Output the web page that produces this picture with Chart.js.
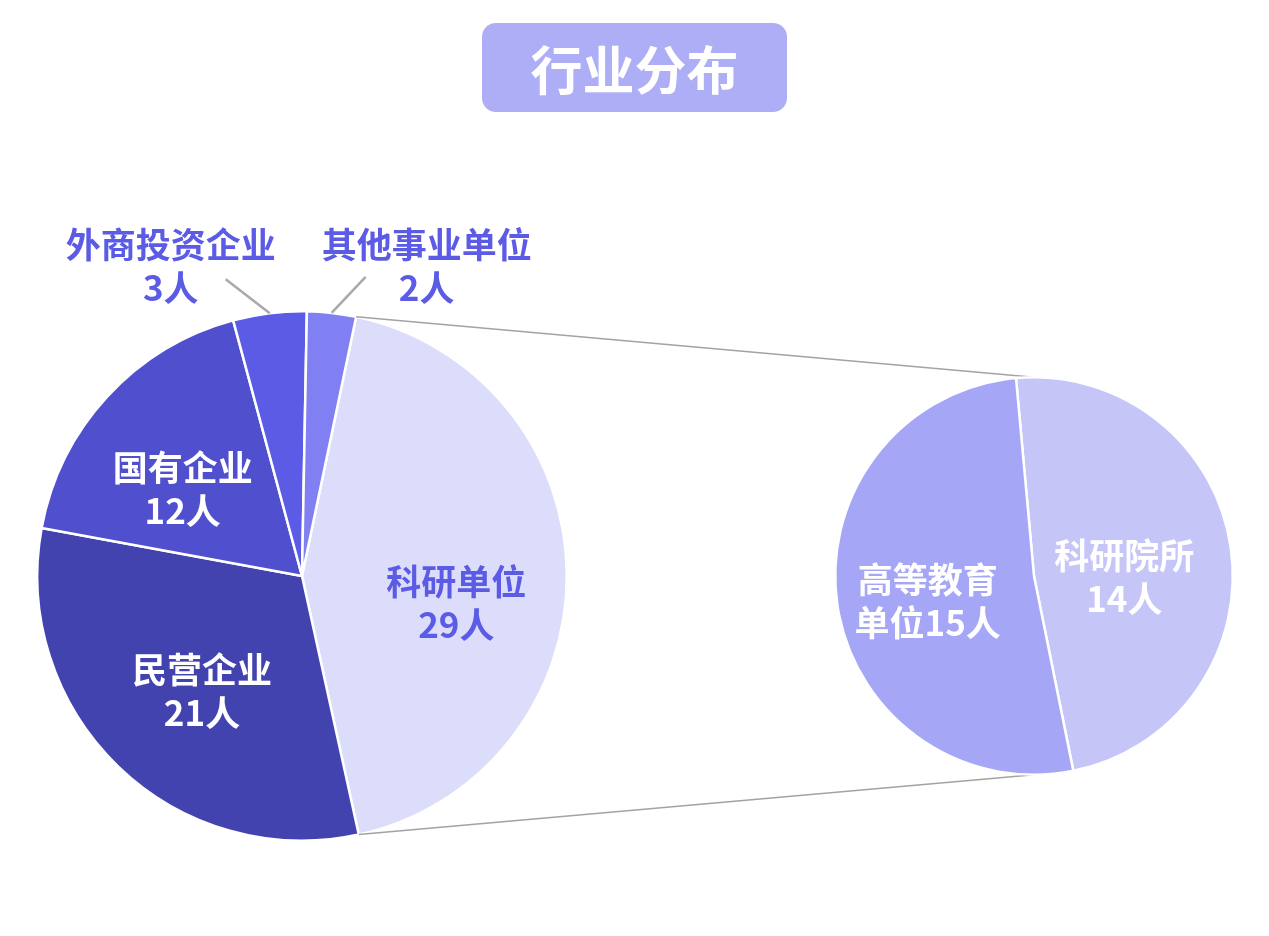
<!DOCTYPE html>
<html>
<head>
<meta charset="utf-8">
<title>行业分布</title>
<script src="https://cdn.jsdelivr.net/npm/chart.js@4.4.1/dist/chart.umd.min.js"></script>
<style>
  body { margin: 0; background: #fff; }
  #wrap { position: relative; width: 1269px; height: 936px; overflow: hidden; }
  #wrap canvas { position: absolute; left: 0; top: 0; }
  #title {
    position: absolute; left: 482px; top: 23px; width: 305px; height: 89px;
    border-radius: 14px; background: #adaef5; color: #fff;
    font: bold 52px "Noto Sans CJK SC", sans-serif; line-height: 89px; text-align: center;
  }
</style>
</head>
<body>
<div id="wrap">
  <canvas id="mainPie" width="1269" height="936"></canvas>
  <canvas id="subPie" width="1269" height="936"></canvas>
  <div id="title">行业分布</div>
</div>
<script>
// data
let mainCats = ["科研单位", "民营企业", "国有企业", "外商投资企业", "其他事业单位"];
let mainVals = [29, 21, 12, 3, 2];
let subCats = ["科研院所", "高等教育单位"];
let subVals = [14, 15];
let unit = "人";

let mainColors = ["#dcdcfb", "#4343b0", "#5050cf", "#5b5be6", "#8080f2"];
let subColors = ["#c5c5f8", "#a5a6f6"];

// where the labels sit (offset from slice centre, or from the rim for outside ones)
let mainLabelPos = [
  { dx: 22, dy: 28, color: "#5b5be6" },
  { dx: -8, dy: 20 },
  { dx: -22, dy: 3 },
  { out: true, lx: -44, ly: -34, dx: -99, dy: -47, color: "#5b5be6" },
  { out: true, lx: 34, ly: -36, dx: 95, dy: -47, color: "#5b5be6" }
];
let subLabelPos = [
  { dx: -8, dy: 16 },
  { dx: -8, dy: 11 }
];

function labelPlugin(pos, wrapAt) {
  return {
    id: "sliceLabels",
    afterDatasetsDraw(chart) {
      let ctx = chart.ctx;
      let ds = chart.data.datasets[0];
      chart.getDatasetMeta(0).data.forEach((arc, i) => {
        let p = pos[i];
        let name = chart.data.labels[i];
        let text = name + ds.data[i] + unit;
        let cut = Math.min(name.length, wrapAt);
        let lines = [text.slice(0, cut), text.slice(cut)];
        let x, y;
        if (p.out) {
          let mid = (arc.startAngle + arc.endAngle) / 2;
          let ex = arc.x + Math.cos(mid) * arc.outerRadius;
          let ey = arc.y + Math.sin(mid) * arc.outerRadius;
          ctx.save();
          ctx.strokeStyle = "#a9a9a9";
          ctx.lineWidth = 2.5;
          ctx.beginPath();
          ctx.moveTo(ex, ey);
          ctx.lineTo(ex + p.lx, ey + p.ly);
          ctx.stroke();
          ctx.restore();
          x = ex + p.dx;
          y = ey + p.dy;
        } else {
          let c = arc.tooltipPosition();
          x = c.x + p.dx;
          y = c.y + p.dy;
        }
        ctx.save();
        ctx.fillStyle = p.color || "#ffffff";
        ctx.font = 'bold 35px "Noto Sans CJK SC", sans-serif';
        ctx.textAlign = "center";
        ctx.textBaseline = "middle";
        ctx.fillText(lines[0], x, y - 21.5);
        ctx.fillText(lines[1], x, y + 21.5);
        ctx.restore();
      });
    }
  };
}

function pieOptions(rotation, padding) {
  return {
    responsive: false,
    animation: false,
    rotation: rotation,
    layout: { padding: padding },
    plugins: { legend: { display: false }, tooltip: { enabled: false } }
  };
}

// left pie
let mainChart = new Chart(document.getElementById("mainPie"), {
  type: "pie",
  data: {
    labels: mainCats,
    datasets: [{
      data: mainVals,
      backgroundColor: mainColors,
      borderColor: "#ffffff",
      borderWidth: 2.5
    }]
  },
  options: pieOptions(11.8, { left: 36, right: 701, top: 310, bottom: 94 }),
  plugins: [labelPlugin(mainLabelPos, Infinity)]
});

// lines from the 科研单位 slice to the breakdown pie
let connector = {
  id: "connector",
  beforeDatasetsDraw(chart) {
    let big = mainChart.getDatasetMeta(0).data[0];
    let small = chart.getDatasetMeta(0).data[0];
    let r = small.outerRadius;
    let ctx = chart.ctx;
    ctx.save();
    ctx.strokeStyle = "#a3a3a3";
    ctx.lineWidth = 1.5;
    ctx.beginPath();
    ctx.moveTo(big.x + Math.cos(big.startAngle) * big.outerRadius, big.y + Math.sin(big.startAngle) * big.outerRadius);
    ctx.lineTo(small.x, small.y - r);
    ctx.moveTo(big.x + Math.cos(big.endAngle) * big.outerRadius, big.y + Math.sin(big.endAngle) * big.outerRadius);
    ctx.lineTo(small.x, small.y + r);
    ctx.stroke();
    ctx.restore();
  }
};

// right pie
let subChart = new Chart(document.getElementById("subPie"), {
  type: "pie",
  data: {
    labels: subCats,
    datasets: [{
      data: subVals,
      backgroundColor: subColors,
      borderColor: "#ffffff",
      borderWidth: 2.5
    }]
  },
  options: pieOptions(-5.2, { left: 834, right: 35, top: 376, bottom: 160 }),
  plugins: [connector, labelPlugin(subLabelPos, 4)]
});
</script>
</body>
</html>
